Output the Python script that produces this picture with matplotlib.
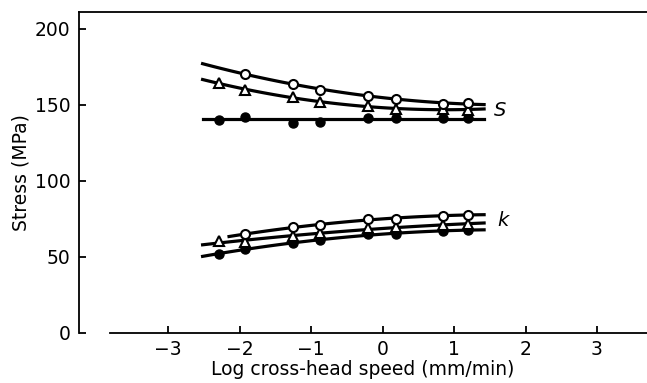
import numpy as np
import matplotlib.pyplot as plt

# log cross-head speed (mm/min) for each test
speed_log = [-2.29, -1.93, -1.25, -0.88, -0.20, 0.18, 0.84, 1.19]
speed_open = speed_log[1:]

# upper group (S)
s_open = [170, 164, 160, 156, 154, 150.5, 151]
s_tri = [164.5, 159.5, 155, 152, 149, 147.2, 147.2, 146.7]
s_filled = [140, 142.3, 138, 139, 141, 141, 141, 141]

# lower group (k)
k_open = [65, 69.5, 71, 75, 75, 77.2, 77.6]
k_tri = [60.5, 59.5, 63.5, 65.5, 69, 69.5, 71, 71.5]
k_filled = [52, 55.3, 59, 61.2, 65, 65, 67, 67.8]

curve_lo = -2.52
curve_lo_kopen = -2.15
curve_hi = 1.42


def fitCurve(x, y, lo, hi, deg=2):
    coef = np.polyfit(x, y, deg)
    xs = np.linspace(lo, hi, 100)
    return xs, np.polyval(coef, xs)


plt.rcParams['font.family'] = 'DejaVu Sans'
fig = plt.figure(figsize=(6.47, 3.83), dpi=100)
ax = fig.add_axes([79 / 647, 50 / 383, 1 - 79 / 647, 321 / 383])

lw = 2.3
series = [
    (speed_open, s_open, 2, curve_lo),
    (speed_log, s_tri, 2, curve_lo),
    (speed_log, s_filled, 0, curve_lo),
    (speed_open, k_open, 2, curve_lo_kopen),
    (speed_log, k_tri, 2, curve_lo),
    (speed_log, k_filled, 2, curve_lo),
]
for x, y, deg, lo in series:
    xs, ys = fitCurve(x, y, lo, curve_hi, deg)
    ax.plot(xs, ys, color='black', lw=lw, zorder=2)

ms = 6.5
ax.plot(speed_log, s_filled, 'o', color='black', ms=ms, zorder=3)
ax.plot(speed_log, k_filled, 'o', color='black', ms=ms, zorder=3)
ax.plot(speed_log, s_tri, '^', mfc='white', mec='black', mew=1.5, ms=ms, ls='none', zorder=4)
ax.plot(speed_log, k_tri, '^', mfc='white', mec='black', mew=1.5, ms=ms, ls='none', zorder=4)
ax.plot(speed_open, s_open, 'o', mfc='white', mec='black', mew=1.5, ms=ms, ls='none', zorder=5)
ax.plot(speed_open, k_open, 'o', mfc='white', mec='black', mew=1.5, ms=ms, ls='none', zorder=5)

ax.text(1.64, 146, 'S', fontsize=14, style='italic', ha='center', va='center')
ax.text(1.68, 74, 'k', fontsize=14, style='italic', ha='center', va='center')

ax.set_xlim(-4.25, 3.70)
ax.set_ylim(0, 211)
ax.spines['right'].set_visible(False)
ax.spines['bottom'].set_bounds(-3.81, 3.70)
for sp in ax.spines.values():
    sp.set_linewidth(1.3)

ax.set_xticks([-3, -2, -1, 0, 1, 2, 3])
ax.set_xticklabels(['\u22123', '\u22122', '\u22121', '0', '1', '2', '3'])
ax.set_yticks([0, 50, 100, 150, 200])
ax.tick_params(direction='in', length=5, width=1.3, labelsize=13.5)
ax.tick_params(axis='y', pad=6)
ax.tick_params(axis='x', pad=5)

ax.set_xlabel('Log cross-head speed (mm/min)', fontsize=13.5, labelpad=1)
ax.set_ylabel('Stress (MPa)', fontsize=13.5, labelpad=3)

fig.savefig('out.png', dpi=100)
